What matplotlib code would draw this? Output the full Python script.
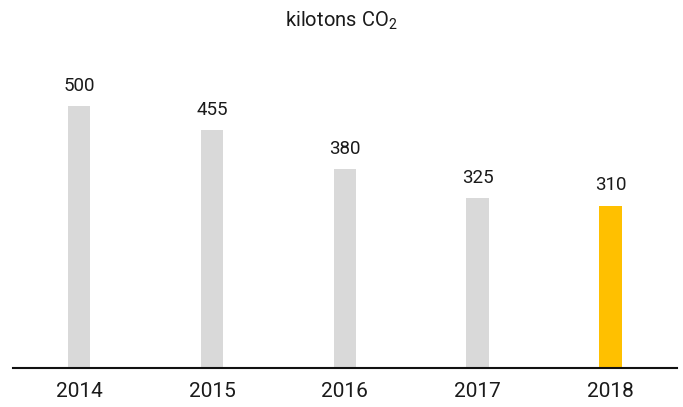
import matplotlib.pyplot as plt
import numpy as np

years = ["2014", "2015", "2016", "2017", "2018"]
values = [500, 455, 380, 325, 310]
colors = ["#d9d9d9", "#d9d9d9", "#d9d9d9", "#d9d9d9", "#ffc000"]

plt.rcParams["font.family"] = ["Roboto", "DejaVu Sans"]
plt.rcParams["mathtext.fontset"] = "custom"
plt.rcParams["mathtext.rm"] = "Roboto"

fig = plt.figure(figsize=(6.83, 4.07), dpi=100)
# axes from x=12.7px to 677px, baseline at y=368px, top at y=50px
ax = fig.add_axes([12.7 / 683, 39 / 407, 664.3 / 683, 318 / 407])

x = np.arange(len(years))
ax.bar(x, values, width=0.17, color=colors)

for xi, v in zip(x, values):
    ax.annotate(str(v), (xi, v), xytext=(0, 8), textcoords="offset points",
                ha="center", va="bottom", fontsize=13.5, color="#1a1a1a")

ax.set_xlim(-0.5, 4.5)
ax.set_ylim(0, 607)
ax.set_xticks(x)
ax.set_xticklabels(years)
ax.set_yticks([])
ax.tick_params(axis="x", length=0, pad=10, labelsize=15, colors="#1a1a1a")
for s in ["top", "right", "left"]:
    ax.spines[s].set_visible(False)
ax.spines["bottom"].set_linewidth(1.5)
ax.spines["bottom"].set_color("#111111")

fig.text(0.5, 1 - 21 / 407, r"kilotons CO$_\mathrm{2}$", ha="center", va="center",
         fontsize=14.5, color="#1a1a1a")

fig.savefig("out.png", dpi=100)
